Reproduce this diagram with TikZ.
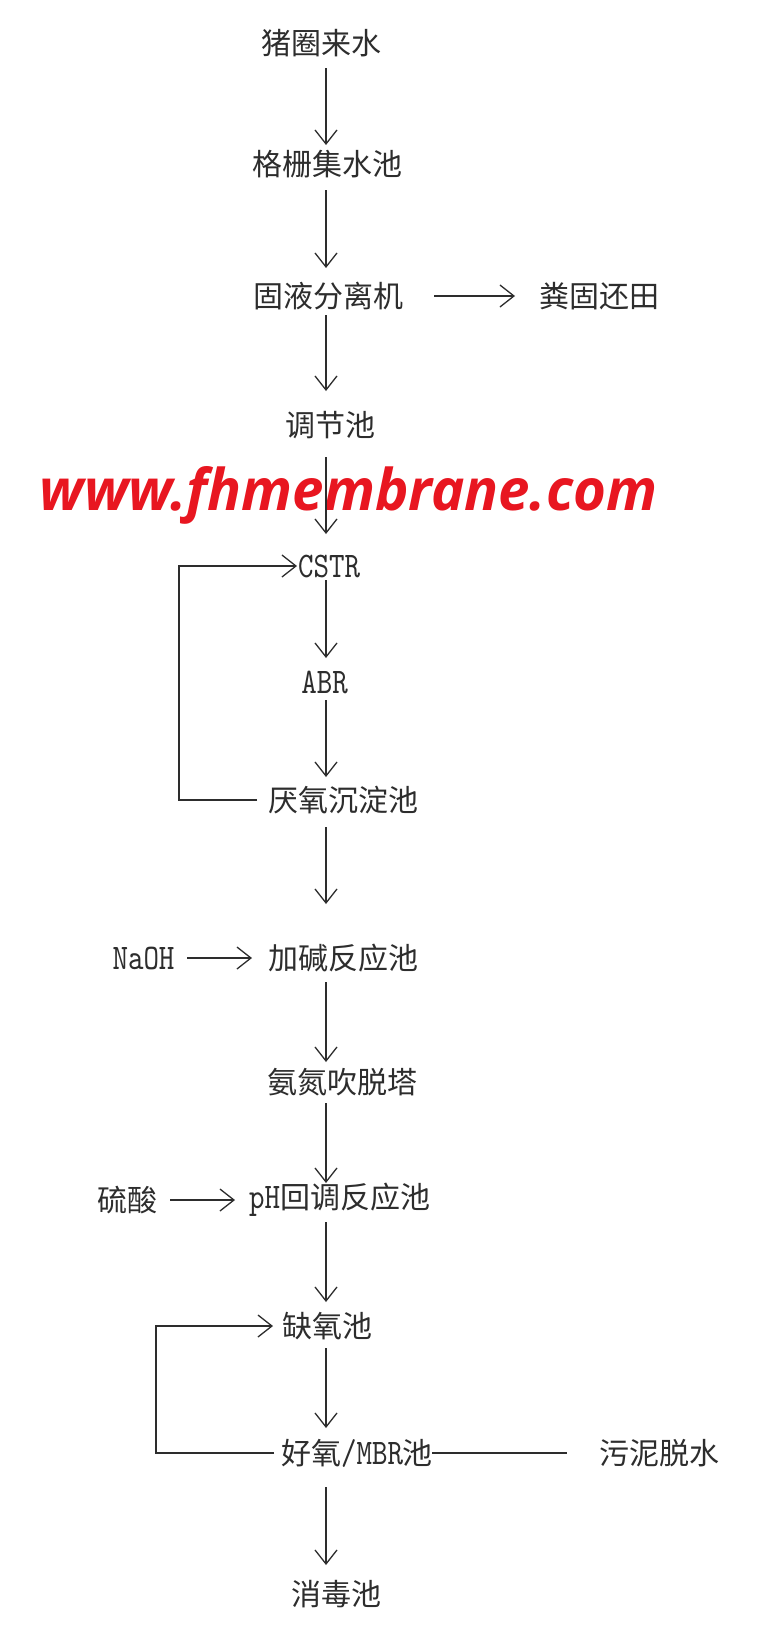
\documentclass[tikz,border=0pt]{standalone}
\usepackage{fontspec}
\setmainfont{Noto Sans CJK SC}
\newfontfamily\lat[FakeStretch=0.82]{lmmono10-regular.otf}
\newfontfamily\wmfont{Open Sans}
\usetikzlibrary{arrows.meta,calc}
\definecolor{wmred}{RGB}{232,22,32}
\definecolor{ink}{RGB}{45,45,45}
\begin{document}
\begin{tikzpicture}[x=1pt,y=-1pt,
  txt/.style={inner sep=0pt, text=ink, font=\fontsize{30pt}{30pt}\selectfont},
  lt/.style={txt, font=\fontsize{36pt}{36pt}\lat},
  wm/.style={inner sep=0pt, text=wmred, font=\wmfont\bfseries\itshape},
  arr/.style={draw=ink, line width=1.3pt, -{Straight Barb[length=14pt,width=22pt,line width=1.3pt]}},
  ln/.style={draw=ink, line width=1.3pt}]
\useasboundingbox (0,0) rectangle (765,1641);
\fill[white] (0,0) rectangle (765,1641);
\coordinate (ax) at (326,0);
% watermark
\node[wm] (wm) at (348.5,495) {\resizebox{617pt}{44pt}{www.fhmembrane.com}};
% nodes
\node[txt] (n1) at (321,43) {猪圈来水};
\node[txt] (n2) at (327.5,164) {格栅集水池};
\node[txt] (n3) at (328.5,296) {固液分离机};
\node[txt] (n3r) at (599,296) {粪固还田};
\node[txt] (n4) at (330,425) {调节池};
\node[lt] (n5) at (329,566) {CSTR};
\node[lt] (n6) at (324.5,682) {ABR};
\node[txt] (n7) at (343,800) {厌氧沉淀池};
\node[txt] (n8) at (343,958) {加碱反应池};
\node[lt] (naoh) at (143.5,958) {NaOH};
\node[txt] (n9) at (342.5,1082) {氨氮吹脱塔};
\node[txt] (n10) at (339.5,1200) {{\fontsize{36pt}{36pt}\lat pH}回调反应池};
\node[txt] (acid) at (127.5,1200) {硫酸};
\node[txt] (n11) at (327,1326) {缺氧池};
\node[txt] (n12) at (357,1453) {好氧{\fontsize{36pt}{36pt}\lat /MBR}池};
\node[txt] (sludge) at (659.5,1453) {污泥脱水};
\node[txt] (n13) at (336.5,1594) {消毒池};
% main vertical arrows
\draw[arr, shorten <=25pt, shorten >=19pt] (n1.center -| ax) -- (n2.center -| ax);
\draw[arr, shorten <=26pt, shorten >=28pt] (n2.center -| ax) -- (n3.center -| ax);
\draw[arr, shorten <=19pt, shorten >=34pt] (n3.center -| ax) -- (n4.center -| ax);
\draw[arr, shorten <=32pt, shorten >=32pt] (n4.center -| ax) -- (n5.center -| ax);
\draw[arr, shorten <=14pt, shorten >=24pt] (n5.center -| ax) -- (n6.center -| ax);
\draw[arr, shorten <=18pt, shorten >=23pt] (n6.center -| ax) -- (n7.center -| ax);
\draw[arr, shorten <=27pt, shorten >=54pt] (n7.center -| ax) -- (n8.center -| ax);
\draw[arr, shorten <=24pt, shorten >=20pt] (n8.center -| ax) -- (n9.center -| ax);
\draw[arr, shorten <=21pt, shorten >=17pt] (n9.center -| ax) -- (n10.center -| ax);
\draw[arr, shorten <=22pt, shorten >=24pt] (n10.center -| ax) -- (n11.center -| ax);
\draw[arr, shorten <=22pt, shorten >=25pt] (n11.center -| ax) -- (n12.center -| ax);
\draw[arr, shorten <=34pt, shorten >=29pt] (n12.center -| ax) -- (n13.center -| ax);
% side arrows
\draw[arr, shorten <=105.5pt, shorten >=84pt] (n3.center) -- (n3r.center);
\draw[arr, shorten <=43.5pt, shorten >=91pt] (naoh.center) -- (naoh.center -| n8.center);
\draw[arr, shorten <=42.5pt, shorten >=104.5pt] (acid.center) -- (acid.center -| n10.center);
\draw[ln, shorten <=75pt, shorten >=92.5pt] (n12.center) -- (sludge.center);
% recycle loops
\coordinate (L1) at (179,800);
\draw[arr, shorten <=86pt, shorten >=32pt] (n7.center) -- (L1) |- (n5.center);
\coordinate (L2) at (156,1453);
\draw[arr, shorten <=83pt, shorten >=54pt] (n12.center) -- (L2) |- (n11.center);
\end{tikzpicture}
\end{document}
